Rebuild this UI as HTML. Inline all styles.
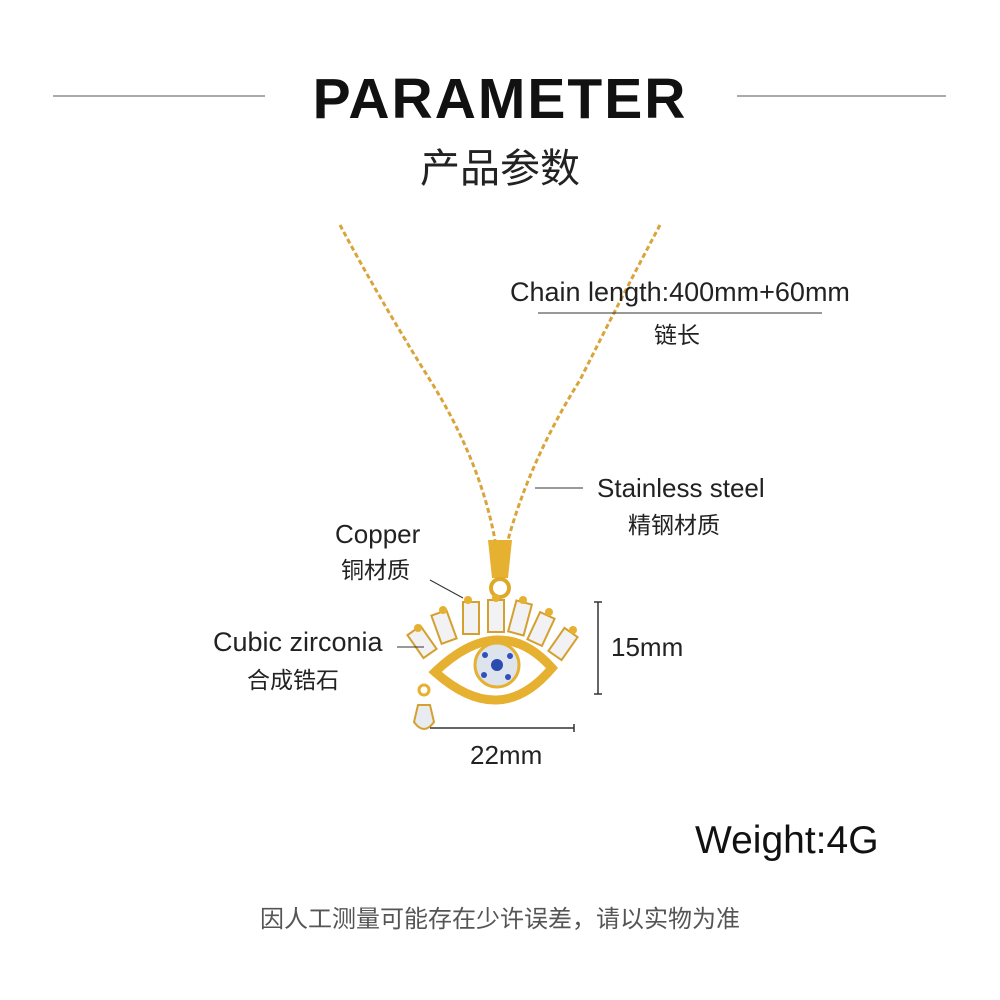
<!DOCTYPE html>
<html><head><meta charset="utf-8"><style>
body{margin:0;width:1000px;height:1000px;background:#fff;position:relative;overflow:hidden;font-family:"Liberation Sans","Noto Sans CJK SC",sans-serif;color:#222}
.t{position:absolute;white-space:nowrap}
</style></head><body>
<svg width="1000" height="1000" style="position:absolute;left:0;top:0">
<line x1="53" y1="96" x2="265" y2="96" stroke="#555" stroke-width="1"/>
<line x1="737" y1="96" x2="946" y2="96" stroke="#555" stroke-width="1"/>
<path d="M340 225 Q380 300 430 380 Q480 460 495 540" fill="none" stroke="#d9a53a" stroke-width="3" stroke-dasharray="5 3"/>
<path d="M660 225 Q620 300 580 380 Q530 460 508 540" fill="none" stroke="#d9a53a" stroke-width="3" stroke-dasharray="5 3"/>
<path d="M488 540 L512 540 L508 578 L492 578 Z" fill="#e6b030"/>
<circle cx="500" cy="588" r="9" fill="none" stroke="#e0a828" stroke-width="4"/>
<path d="M435 672 Q500 610 552 668 Q500 730 435 672 Z" fill="none" stroke="#e6b030" stroke-width="9"/>
<circle cx="497" cy="665" r="22" fill="#dde4ee" stroke="#e6b030" stroke-width="3"/>
<circle cx="497" cy="665" r="6" fill="#2a4bb0"/>
<g fill="#3050c0"><circle cx="485" cy="655" r="3"/><circle cx="510" cy="656" r="3"/><circle cx="484" cy="675" r="3"/><circle cx="508" cy="677" r="3"/></g>
<g fill="#f2f2f4" stroke="#d4a030" stroke-width="2">
<rect x="414" y="628" width="16" height="28" transform="rotate(-35 422 642)"/>
<rect x="436" y="612" width="16" height="30" transform="rotate(-20 444 627)"/>
<rect x="463" y="602" width="16" height="32"/>
<rect x="488" y="600" width="16" height="32"/>
<rect x="512" y="602" width="16" height="32" transform="rotate(15 520 618)"/>
<rect x="533" y="614" width="16" height="30" transform="rotate(25 541 629)"/>
<rect x="555" y="630" width="16" height="28" transform="rotate(35 563 644)"/>
</g>
<g fill="#e6b030"><circle cx="418" cy="628" r="4"/><circle cx="443" cy="610" r="4"/><circle cx="468" cy="600" r="4"/><circle cx="496" cy="598" r="4"/><circle cx="523" cy="600" r="4"/><circle cx="549" cy="612" r="4"/><circle cx="573" cy="630" r="4"/></g>
<circle cx="424" cy="690" r="5" fill="none" stroke="#e6b030" stroke-width="3"/>
<path d="M418 705 L430 705 L434 722 Q424 736 414 722 Z" fill="#e8ebef" stroke="#d4a030" stroke-width="2"/>
<line x1="538" y1="313" x2="822" y2="313" stroke="#333" stroke-width="1"/>
<line x1="535" y1="488" x2="583" y2="488" stroke="#333" stroke-width="1"/>
<line x1="430" y1="580" x2="463" y2="598" stroke="#333" stroke-width="1"/>
<line x1="397" y1="647" x2="424" y2="647" stroke="#333" stroke-width="1"/>
<line x1="598" y1="602" x2="598" y2="694" stroke="#333" stroke-width="1.5"/>
<line x1="594" y1="602" x2="602" y2="602" stroke="#333" stroke-width="1.5"/>
<line x1="594" y1="694" x2="602" y2="694" stroke="#333" stroke-width="1.5"/>
<line x1="430" y1="728" x2="574" y2="728" stroke="#333" stroke-width="1.5"/>
<line x1="574" y1="724" x2="574" y2="732" stroke="#333" stroke-width="1.5"/>
</svg>
<div class="t" style="left:0;width:1000px;text-align:center;top:66px;font-size:57px;font-weight:bold;letter-spacing:2px;color:#111">PARAMETER</div>
<div class="t" style="left:0;width:1000px;text-align:center;top:136px;font-size:40px;color:#222">产品参数</div>
<div class="t" style="left:510px;top:277px;font-size:27px">Chain length:400mm+60mm</div>
<div class="t" style="left:654px;top:316px;font-size:23px">链长</div>
<div class="t" style="left:597px;top:473px;font-size:26px">Stainless steel</div>
<div class="t" style="left:628px;top:506px;font-size:23px">精钢材质</div>
<div class="t" style="left:335px;top:519px;font-size:26px">Copper</div>
<div class="t" style="left:341px;top:551px;font-size:23px">铜材质</div>
<div class="t" style="left:213px;top:627px;font-size:27px">Cubic zirconia</div>
<div class="t" style="left:247px;top:661px;font-size:23px">合成锆石</div>
<div class="t" style="left:611px;top:632px;font-size:26px">15mm</div>
<div class="t" style="left:470px;top:740px;font-size:26px">22mm</div>
<div class="t" style="left:695px;top:819px;font-size:39px;color:#111">Weight:4G</div>
<div class="t" style="left:0;width:1000px;text-align:center;top:899px;font-size:24px;color:#555">因人工测量可能存在少许误差，请以实物为准</div>
</body></html>
